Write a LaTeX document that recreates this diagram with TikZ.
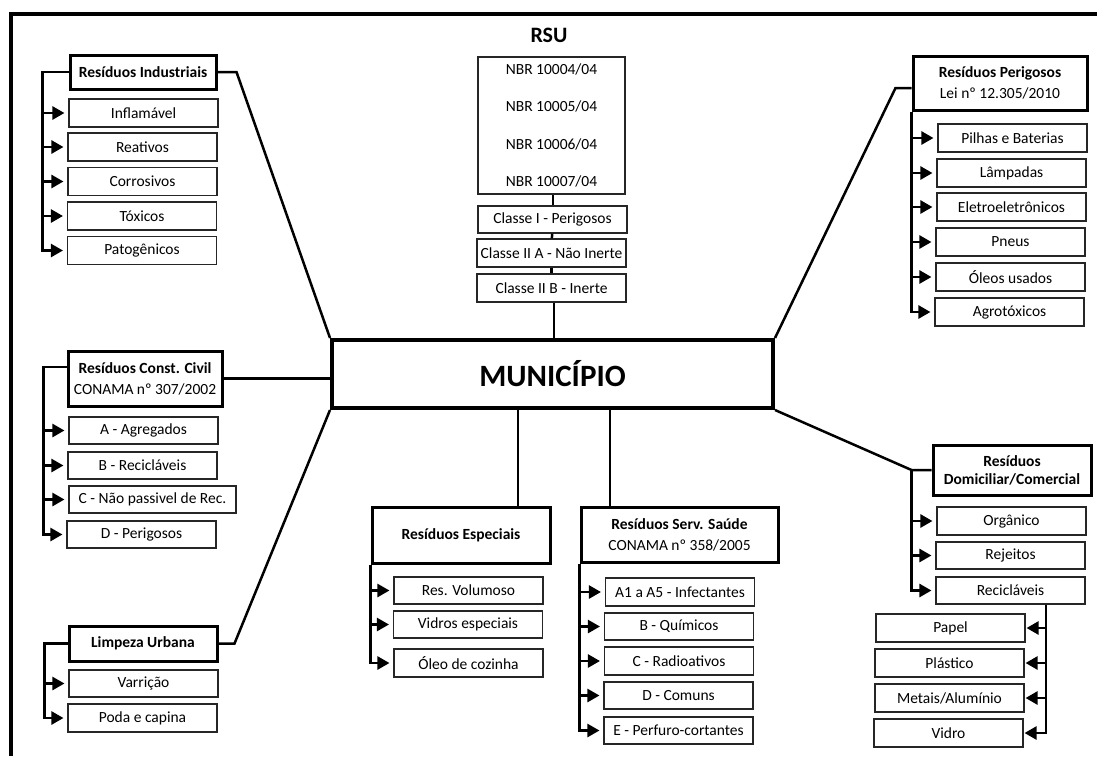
\documentclass[tikz,border=0pt]{standalone}
\usepackage{fontspec}
\setmainfont{Carlito}
\usetikzlibrary{arrows.meta}

\begin{document}
\begin{tikzpicture}[x=1pt,y=-1pt]
    \tikzstyle{itembox}=[draw=black!85, line width=1.1pt, inner sep=1pt, minimum width=149pt, minimum height=28pt, font=\fontsize{15.5}{18}\selectfont]
    \tikzstyle{groupbox}=[draw, line width=3pt, inner sep=2pt, align=center, font=\bfseries\fontsize{15.5}{21}\selectfont]
    \tikzstyle{link}=[line width=2.5pt]
    \tikzstyle{arr}=[link, -{Triangle[length=12pt,width=13pt]}, shorten >=4pt]
    \tikzstyle{arrl}=[arr, shorten >=1pt]

    \useasboundingbox (0,0) rectangle (1097,756);
    \draw[line width=3.5pt] (1097,14) -- (11,14) -- (11,756);

    % centre
    \node[draw, line width=4pt, minimum width=441pt, minimum height=68pt, font=\bfseries\fontsize{31}{36}\selectfont] (mun) at (552.5,374) {MUNICÍPIO};

    % RSU
    \node[font=\bfseries\fontsize{22}{26}\selectfont] (rsu) at (549,35) {RSU};
    \node[itembox, minimum width=147pt, minimum height=137pt, align=center, font=\fontsize{15.5}{37.5}\selectfont] (nbr) at (551.5,125.5) {NBR 10004/04\\NBR 10005/04\\NBR 10006/04\\NBR 10007/04};
    \node[itembox, minimum height=27pt] (c1) at (552.5,219.5) {Classe I - Perigosos};
    \node[itembox] (c2) at (551.5,253) {Classe II A - Não Inerte};
    \node[itembox] (c3) at (551.5,288) {Classe II B - Inerte};
    \draw[link] ([xshift=1.5pt]nbr.south) -- ([xshift=1.5pt]nbr.south |- c1.north);
    \draw[link] (c1) -- (c2);
    \draw[link] (c2) -- (c3);
    \draw[link] ([xshift=2.5pt]c3.south) -- ([xshift=2.5pt]c3.south |- mun.north);

    % industriais
    \node[groupbox, minimum width=146pt, minimum height=34pt] (ind) at (143,72) {Resíduos Industriais};
    \node[itembox] (inf) at (143.5,113) {Inflamável};
    \node[itembox] (rea) at (142.5,147) {Reativos};
    \node[itembox] (cor) at (142.5,181.5) {Corrosivos};
    \node[itembox] (tox) at (142,216) {Tóxicos};
    \node[itembox] (pat) at (142,250.5) {Patogênicos};
    \draw[link] (ind.east) -- ++(19,0) -- (mun.north west);
    \draw[arr] (ind.west) -- ++(-26,0) |- (inf.west);
    \draw[arr] (ind.west) -- ++(-26,0) |- (rea.west);
    \draw[arr] (ind.west) -- ++(-26,0) |- (cor.west);
    \draw[arr] (ind.west) -- ++(-26,0) |- (tox.west);
    \draw[arr] (ind.west) -- ++(-26,0) |- (pat.west);

    % perigosos
    \node[groupbox, minimum width=174pt, minimum height=54pt] (per) at (1000,83) {Resíduos Perigosos\\\mdseries Lei nº 12.305/2010};
    \node[itembox] (pil) at (1012.5,138) {Pilhas e Baterias};
    \node[itembox] (lam) at (1011.5,173) {Lâmpadas};
    \node[itembox] (ele) at (1011.5,207) {Eletroeletrônicos};
    \node[itembox] (pne) at (1010.5,242) {Pneus};
    \node[itembox] (ole) at (1010.5,277) {Óleos usados};
    \node[itembox] (agt) at (1009.5,312) {Agrotóxicos};
    \draw[link] ([yshift=-5pt]per.west) -- ++(-16,0) -- (mun.north east);
    \draw[arr] (per.south west) |- (pil.west);
    \draw[arr] (per.south west) |- (lam.west);
    \draw[arr] (per.south west) |- (ele.west);
    \draw[arr] (per.south west) |- (pne.west);
    \draw[arr] (per.south west) |- (ole.west);
    \draw[arr] (per.south west) |- (agt.west);

    % construcao civil
    \node[groupbox, minimum width=154pt, minimum height=55pt] (ccv) at (145,378.5) {Resíduos Const. Civil\\\mdseries CONAMA nº 307/2002};
    \node[itembox, minimum height=27pt] (agr) at (143.5,430.5) {A - Agregados};
    \node[itembox, minimum height=27pt] (rec) at (142.5,465.5) {B - Recicláveis};
    \node[itembox, minimum width=167pt, minimum height=27pt] (cnp) at (152.5,499.5) {C - Não passivel de Rec.};
    \node[itembox, minimum height=27pt] (dpe) at (141.5,534.5) {D - Perigosos};
    \draw[link] (ccv.east) -- (ccv.east -| mun.west);
    \draw[arr] ([yshift=11.5pt]ccv.west) -- ++(-23,0) |- (agr.west);
    \draw[arr] ([yshift=11.5pt]ccv.west) -- ++(-23,0) |- (rec.west);
    \draw[arr] ([yshift=11.5pt]ccv.west) -- ++(-23,0) |- (cnp.west);
    \draw[arr] ([yshift=11.5pt]ccv.west) -- ++(-23,0) |- (dpe.west);

    % limpeza urbana
    \node[groupbox, minimum width=148pt, minimum height=35pt] (lim) at (143,643.5) {Limpeza Urbana};
    \node[itembox, minimum height=27pt] (var) at (143.5,683.5) {Varrição};
    \node[itembox] (pod) at (142.5,718) {Poda e capina};
    \draw[link] (lim.east) -- ++(16,0) -- (mun.south west);
    \draw[arr] (lim.west) -- ++(-23,0) |- (var.west);
    \draw[arr] (lim.west) -- ++(-23,0) |- (pod.west);

    % especiais
    \node[groupbox, minimum width=178pt, minimum height=56pt] (esp) at (461,535) {Resíduos Especiais};
    \node[itembox, minimum height=27pt] (vol) at (468.5,590.5) {Res. Volumoso};
    \node[itembox, minimum height=27pt] (vid) at (468,624.5) {Vidros especiais};
    \node[itembox] (oco) at (468.5,663) {Óleo de cozinha};
    \draw[link] ([xshift=57pt]esp.north) -- ([xshift=57pt]esp.north |- mun.south);
    \draw[arr] (esp.south west) |- (vol.west);
    \draw[arr] (esp.south west) |- (vid.west);
    \draw[arr] (esp.south west) |- (oco.west);

    % servicos de saude
    \node[groupbox, minimum width=197pt, minimum height=55pt] (sau) at (679.5,534.5) {Resíduos Serv. Saúde\\\mdseries CONAMA nº 358/2005};
    \node[itembox] (a15) at (680,592) {A1 a A5 - Infectantes};
    \node[itembox, minimum height=27pt] (bqu) at (679,626.5) {B - Químicos};
    \node[itembox] (cra) at (679,661) {C - Radioativos};
    \node[itembox, minimum height=27pt] (dco) at (678.5,695.5) {D - Comuns};
    \node[itembox, minimum height=27pt] (epc) at (678.5,730.5) {E - Perfuro-cortantes};
    \draw[link] ([xshift=-69.5pt]sau.north) -- ([xshift=-69.5pt]sau.north |- mun.south);
    \draw[arr] (sau.south west) |- (a15.west);
    \draw[arr] (sau.south west) |- (bqu.west);
    \draw[arr] (sau.south west) |- (cra.west);
    \draw[arr] (sau.south west) |- (dco.west);
    \draw[arr] (sau.south west) |- (epc.west);

    % domiciliar / comercial
    \node[groupbox, minimum width=158pt, minimum height=50pt, font=\bfseries\fontsize{15.5}{18}\selectfont] (dom) at (1012,470) {Resíduos\\Domiciliar/Comercial};
    \node[itembox] (org) at (1011.5,521) {Orgânico};
    \node[itembox, minimum height=27pt] (rej) at (1010.5,555.5) {Rejeitos};
    \node[itembox, minimum height=27pt] (rcl) at (1010.5,590.5) {Recicláveis};
    \node[itembox] (pap) at (950.5,628) {Papel};
    \node[itembox] (pla) at (949.5,663) {Plástico};
    \node[itembox] (met) at (949.5,698) {Metais/Alumínio};
    \node[itembox] (vdr) at (948.5,733) {Vidro};
    \draw[link] (mun.south east) -- ([xshift=-20pt]dom.west) -- (dom.west);
    \draw[arr] ([xshift=-20pt]dom.west) |- (org.west);
    \draw[arr] ([xshift=-20pt]dom.west) |- (rej.west);
    \draw[arr] ([xshift=-20pt]dom.west) |- (rcl.west);
    \draw[arrl] ([xshift=35.5pt]rcl.south) |- (pap.east);
    \draw[arrl] ([xshift=35.5pt]rcl.south) |- (pla.east);
    \draw[arrl] ([xshift=35.5pt]rcl.south) |- (met.east);
    \draw[arrl] ([xshift=35.5pt]rcl.south) |- (vdr.east);
  \end{tikzpicture}
\end{document}
